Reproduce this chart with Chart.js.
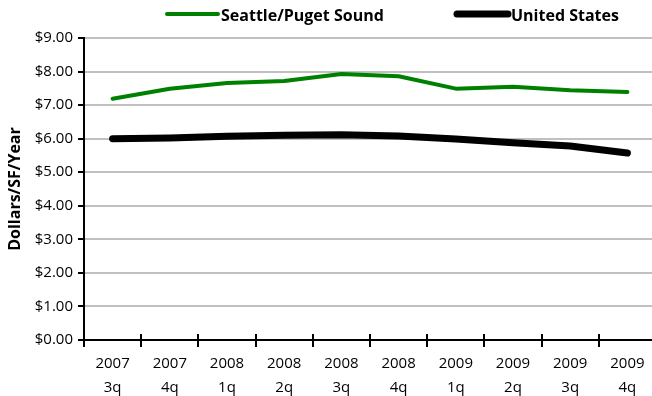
<!DOCTYPE html>
<html>
<head>
<meta charset="utf-8">
<script src="https://cdn.jsdelivr.net/npm/chart.js@4/dist/chart.umd.min.js"></script>
<style>
  html, body { margin: 0; padding: 0; background: #fff; overflow: hidden; }
  #wrap { position: relative; width: 656px; height: 396px; }
</style>
</head>
<body>
<div id="wrap"><canvas id="c"></canvas></div>
<script>
// Quarterly asking rents, dollars per square foot per year
const years = ['2007', '2007', '2008', '2008', '2008', '2008', '2009', '2009', '2009', '2009'];
const quarters = ['3q', '4q', '1q', '2q', '3q', '4q', '1q', '2q', '3q', '4q'];
const seattle = [7.19, 7.49, 7.66, 7.72, 7.93, 7.86, 7.49, 7.55, 7.44, 7.39];
const unitedStates = [6.00, 6.02, 6.07, 6.10, 6.12, 6.08, 5.99, 5.88, 5.78, 5.57];
const seriesNames = ['Seattle/Puget Sound', 'United States'];
const yTicks = [0, 1, 2, 3, 4, 5, 6, 7, 8, 9];

const labels = years.map((y, i) => [y, quarters[i]]);
const FONT = '"Open Sans", "Noto Sans", sans-serif';

// Legend drawn as short round-capped strokes followed by bold names
const lineLegend = {
  id: 'lineLegend',
  afterDraw(chart) {
    const ctx = chart.ctx;
    const starts = [167, 457];
    ctx.save();
    chart.data.datasets.forEach((ds, i) => {
      const x0 = starts[i];
      const y = 14;
      ctx.beginPath();
      ctx.lineCap = 'round';
      ctx.strokeStyle = ds.borderColor;
      ctx.lineWidth = ds.borderWidth;
      ctx.moveTo(x0, y);
      ctx.lineTo(x0 + 51, y);
      ctx.stroke();
      ctx.fillStyle = '#000';
      ctx.font = 'bold 16px ' + FONT;
      ctx.textBaseline = 'middle';
      ctx.textAlign = 'left';
      ctx.fillText(ds.label, x0 + 54, y + 2);
    });
    ctx.restore();
  }
};

// Short tick stubs above the x axis at each category boundary
const xTickStubs = {
  id: 'xTickStubs',
  afterDatasetsDraw(chart) {
    const xs = chart.scales.x;
    const ctx = chart.ctx;
    const bottom = chart.chartArea.bottom;
    ctx.save();
    ctx.strokeStyle = '#000';
    ctx.lineWidth = 2;
    for (let i = 1; i < xs.ticks.length; i++) {
      const px = Math.round((xs.getPixelForTick(i) + xs.getPixelForTick(i - 1)) / 2);
      ctx.beginPath();
      ctx.moveTo(px, bottom);
      ctx.lineTo(px, bottom - 6);
      ctx.stroke();
    }
    ctx.restore();
  }
};

new Chart(document.getElementById('c'), {
  type: 'line',
  data: {
    labels: labels,
    datasets: [
      {
        label: seriesNames[0],
        data: seattle,
        borderColor: '#008000',
        backgroundColor: '#008000',
        borderWidth: 4,
        borderCapStyle: 'round',
        borderJoinStyle: 'round',
        pointRadius: 0,
        tension: 0
      },
      {
        label: seriesNames[1],
        data: unitedStates,
        borderColor: '#000000',
        backgroundColor: '#000000',
        borderWidth: 7,
        borderCapStyle: 'round',
        borderJoinStyle: 'round',
        pointRadius: 0,
        tension: 0
      }
    ]
  },
  options: {
    responsive: true,
    maintainAspectRatio: false,
    animation: false,
    layout: { padding: { top: 38, right: 0, bottom: 0, left: 0 } },
    plugins: {
      legend: { display: false },
      tooltip: { enabled: false }
    },
    scales: {
      x: {
        offset: true,
        grid: {
          offset: true,
          drawOnChartArea: false,
          color: '#000',
          tickColor: '#000',
          tickLength: 7,
          lineWidth: 2
        },
        border: { color: '#000', width: 2 },
        ticks: {
          color: '#000',
          font: { family: FONT, size: 15, lineHeight: 1.6 },
          padding: 5,
          maxRotation: 0,
          autoSkip: false
        },
        afterFit(scale) { scale.height = 56; }
      },
      y: {
        min: 0,
        max: 9,
        afterBuildTicks(scale) { scale.ticks = yTicks.map(v => ({ value: v })); },
        grid: {
          color: '#c0c0c0',
          lineWidth: 2,
          tickColor: '#000',
          tickLength: 6
        },
        border: { color: '#000', width: 2 },
        ticks: {
          color: '#000',
          font: { family: FONT, size: 15 },
          padding: 5,
          callback: v => '$' + Number(v).toFixed(2)
        },
        title: {
          display: true,
          text: 'Dollars/SF/Year',
          color: '#000',
          font: { family: FONT, size: 16, weight: 'bold' },
          padding: { top: 6, bottom: 0 }
        },
        afterFit(scale) { scale.width = 84; }
      }
    }
  },
  plugins: [lineLegend, xTickStubs]
});
</script>
</body>
</html>
